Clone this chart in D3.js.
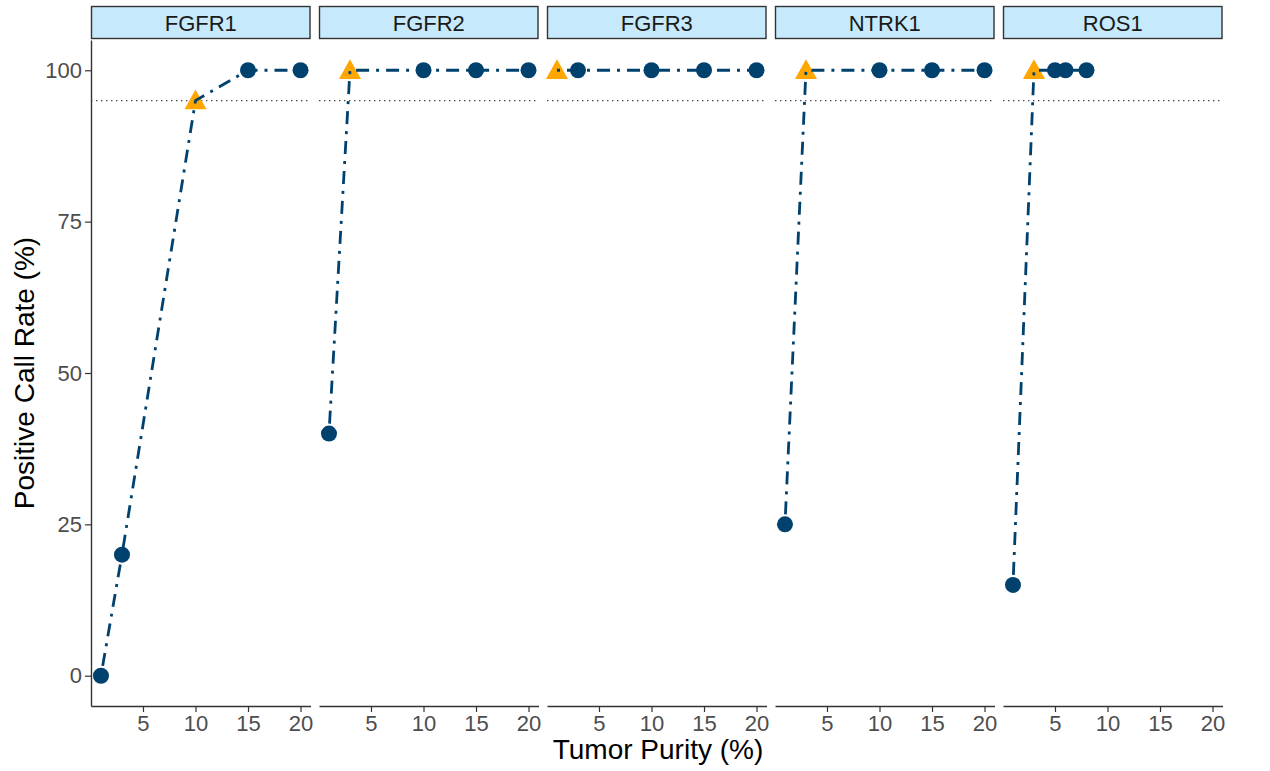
<!doctype html>
<html lang="en">
<head>
<meta charset="UTF-8">
<title>Positive Call Rate by Tumor Purity</title>
<style type="text/css">
body {
  font-family: 'Liberation Sans', 'Helvetica', sans-serif;
  margin: 0;
  padding: 0;
  background: #fff;
}
</style>
<script type="text/javascript" src="https://cdn.jsdelivr.net/npm/d3@7"></script>
</head>
<body>
<div id="chart"></div>
<script type="text/javascript">

var genes = ['FGFR1', 'FGFR2', 'FGFR3', 'NTRK1', 'ROS1'];

// purity (%) and positive call rate (%) per gene
var purity = {
  FGFR1: [1, 3, 10, 15, 20],
  FGFR2: [1, 3, 10, 15, 20],
  FGFR3: [1, 3, 10, 15, 20],
  NTRK1: [1, 3, 10, 15, 20],
  ROS1:  [1, 3, 5, 6, 8]
};
var callRate = {
  FGFR1: [0, 20, 95, 100, 100],
  FGFR2: [40, 100, 100, 100, 100],
  FGFR3: [100, 100, 100, 100, 100],
  NTRK1: [25, 100, 100, 100, 100],
  ROS1:  [15, 100, 100, 100, 100]
};
// index of the limit-of-detection point (drawn as triangle)
var lodIndex = { FGFR1: 2, FGFR2: 1, FGFR3: 0, NTRK1: 1, ROS1: 1 };

var xTicks = [5, 10, 15, 20];
var yTicks = [0, 25, 50, 75, 100];
var threshold = 95;

var W = 1270, H = 771;
var navy = '#00416e', orange = '#ffa600';

var left0 = 91, panelW = 219.5, gapW = 8.5;
var plotTop = 40, plotBottom = 706, stripTop = 6;

var svg = d3.select('#chart').append('svg')
  .attr('width', W).attr('height', H);

var y = d3.scaleLinear().domain([-5, 105]).range([plotBottom, plotTop]);

function styleAxis(g) {
  g.select('.domain').attr('stroke', '#333').attr('stroke-width', 1.4);
  g.selectAll('.tick line').attr('stroke', '#333').attr('stroke-width', 1.2);
  g.selectAll('.tick text').attr('fill', '#4d4d4d')
    .attr('font-size', 22)
    .attr('font-family', 'Liberation Sans, Helvetica, sans-serif');
}

// y axis (first panel only)
var yAxis = d3.axisLeft(y).tickValues(yTicks).tickSize(6).tickPadding(3).tickSizeOuter(0);
var gy = svg.append('g').attr('transform', 'translate(' + left0 + ',0)').call(yAxis);
styleAxis(gy);

var line = d3.line();

genes.forEach(function(gene, gi) {
  var px = left0 + gi * (panelW + gapW);
  var x = d3.scaleLinear().domain([0.05, 20.95]).range([px, px + panelW]);

  var g = svg.append('g');

  // strip
  g.append('rect')
    .attr('x', px + 0.5).attr('y', stripTop + 0.5)
    .attr('width', panelW - 1).attr('height', plotTop - stripTop - 2)
    .attr('fill', '#c6e9fb').attr('stroke', '#333').attr('stroke-width', 1.4);
  g.append('text')
    .attr('x', px + panelW / 2).attr('y', (stripTop + plotTop) / 2 + 8)
    .attr('text-anchor', 'middle')
    .style('font-size', '22px').attr('fill', '#1a1a1a')
    .text(gene);

  // threshold line
  g.append('line')
    .attr('x1', px).attr('x2', px + panelW)
    .attr('y1', y(threshold)).attr('y2', y(threshold))
    .attr('stroke', '#444').attr('stroke-width', 1.3)
    .attr('stroke-dasharray', '1.4,3.6');

  // x axis
  var xAxis = d3.axisBottom(x).tickValues(xTicks).tickSize(6).tickPadding(3).tickSizeOuter(0);
  var gx = g.append('g').attr('transform', 'translate(0,' + plotBottom + ')').call(xAxis);
  styleAxis(gx);

  var pts = purity[gene].map(function(p, i) { return [x(p), y(callRate[gene][i])]; });

  pts.forEach(function(p, i) {
    if (i === lodIndex[gene]) {
      var s = 11;
      g.append('path')
        .attr('d', 'M' + p[0] + ',' + (p[1] - s) + 'L' + (p[0] + s) + ',' + (p[1] + s * 0.8) +
             'L' + (p[0] - s) + ',' + (p[1] + s * 0.8) + 'Z')
        .attr('fill', orange);
    }
  });

  g.append('path')
    .attr('d', line(pts))
    .attr('fill', 'none')
    .attr('stroke', navy).attr('stroke-width', 2.8)
    .attr('stroke-dasharray', '3,7,13,7');

  pts.forEach(function(p, i) {
    if (i !== lodIndex[gene]) {
      g.append('circle').attr('cx', p[0]).attr('cy', p[1]).attr('r', 8).attr('fill', navy);
    }
  });
});

// axis titles
svg.append('text')
  .attr('x', 658).attr('y', 759)
  .attr('text-anchor', 'middle')
  .style('font-size', '28px').attr('fill', '#000')
  .text('Tumor Purity (%)');

svg.append('text')
  .attr('transform', 'translate(34,' + ((plotTop + plotBottom) / 2) + ') rotate(-90)')
  .attr('text-anchor', 'middle')
  .style('font-size', '28px').attr('fill', '#000')
  .text('Positive Call Rate (%)');

</script>
</body>
</html>
